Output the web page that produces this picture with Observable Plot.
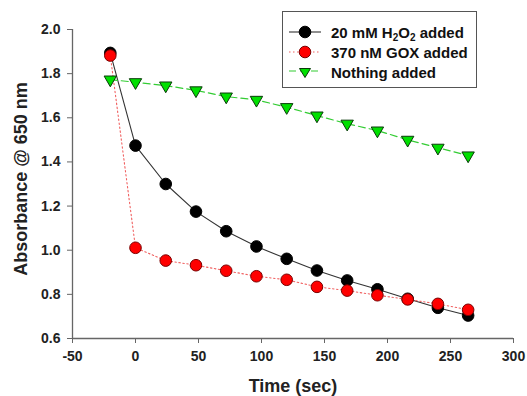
<!DOCTYPE html>
<html>
<head>
<meta charset="utf-8">
<script src="https://cdn.jsdelivr.net/npm/d3@7"></script>
<script src="https://cdn.jsdelivr.net/npm/@observablehq/plot@0.6"></script>
<style>
  html, body { margin: 0; padding: 0; background: #fff; }
  #wrap { position: relative; width: 527px; height: 396px; font-family: "Liberation Sans", Arial, sans-serif; }
  #wrap svg.plot { display: block; }
  #legend { position: absolute; left: 282px; top: 11px; width: 193px; height: 75px; border: 1.5px solid #555; background: #fff; box-sizing: content-box; }
  .row { position: absolute; left: 0; height: 20px; display: flex; align-items: center; }
  .row svg { display: block; margin-left: 5px; }
  .row span { font-weight: bold; font-size: 15px; color: #111; margin-left: 9px; white-space: nowrap; }
  sub { font-size: 10px; vertical-align: -3px; line-height: 0; }
</style>
</head>
<body>
<div id="wrap"></div>
<script>
// ---- data ----
const times = [-20, 0, 24, 48, 72, 96, 120, 144, 168, 192, 216, 240, 264];
const h2o2 = [1.894, 1.474, 1.30, 1.175, 1.086, 1.017, 0.961, 0.908, 0.863, 0.823, 0.780, 0.739, 0.704];
const gox = [1.882, 1.011, 0.953, 0.932, 0.907, 0.882, 0.866, 0.834, 0.817, 0.796, 0.777, 0.757, 0.730];
const nothing = [1.773, 1.761, 1.746, 1.724, 1.696, 1.681, 1.648, 1.610, 1.573, 1.542, 1.500, 1.464, 1.429];
const xTicks = [-50, 0, 50, 100, 150, 200, 250, 300];
const yTicks = [0.6, 0.8, 1.0, 1.2, 1.4, 1.6, 1.8, 2.0];
const seriesNames = ["20 mM H2O2 added", "370 nM GOX added", "Nothing added"];

const tbl = (vals) => times.map((t, i) => ({t, v: vals[i]}));
const dH = tbl(h2o2), dG = tbl(gox), dN = tbl(nothing);

const font = "Liberation Sans, Arial, sans-serif";
const axisColor = "#666";

const plot = Plot.plot({
  width: 527,
  height: 396,
  marginLeft: 72,
  marginRight: 14,
  marginTop: 29,
  marginBottom: 58,
  style: {fontFamily: font, background: "#fff", overflow: "visible"},
  x: {domain: [-50, 300]},
  y: {domain: [0.6, 2.0]},
  marks: [
    Plot.axisX({ticks: xTicks, tickSize: 5, tickPadding: 8, tickFormat: d => String(d), fontSize: 14, fontWeight: "bold", stroke: axisColor, fill: "#222", label: null}),
    Plot.axisY({ticks: yTicks, tickSize: 5, tickPadding: 7, tickFormat: d3.format(".1f"), fontSize: 14, fontWeight: "bold", stroke: axisColor, fill: "#222", label: null}),
    Plot.ruleX([-50], {stroke: axisColor, strokeWidth: 1.3}),
    Plot.ruleY([0.6], {stroke: axisColor, strokeWidth: 1.3}),
    Plot.text(["Time (sec)"], {frameAnchor: "bottom", textAnchor: "middle", lineAnchor: "middle", dy: 48, fontSize: 18, fontWeight: "bold", fill: "#222"}),
    Plot.text(["Absorbance @ 650 nm"], {frameAnchor: "left", textAnchor: "middle", lineAnchor: "middle", dx: -51, dy: -5, rotate: -90, fontSize: 18, fontWeight: "bold", fill: "#222"}),
    // series 1
    Plot.line(dH, {x: "t", y: "v", stroke: "#333", strokeWidth: 1.1}),
    Plot.dot(dH, {x: "t", y: "v", r: 5.8, fill: "#000", stroke: "#000", strokeWidth: 1}),
    // series 2
    Plot.line(dG, {x: "t", y: "v", stroke: "#f06060", strokeWidth: 1.1, strokeDasharray: "1.5,2.5"}),
    Plot.dot(dG, {x: "t", y: "v", r: 5.8, fill: "#ff0000", stroke: "#7a0000", strokeWidth: 1}),
    // series 3
    Plot.line(dN, {x: "t", y: "v", stroke: "#33cc33", strokeWidth: 1.2, strokeDasharray: "7,4"}),
    Plot.dot(dN, {x: "t", y: "v", r: 4.6, symbol: "triangle", rotate: 180, fill: "#00e000", stroke: "#0a3a0a", strokeWidth: 1})
  ]
});
plot.classList.add("plot");
const wrap = document.getElementById("wrap");
wrap.appendChild(plot);

// legend
const legend = document.createElement("div");
legend.id = "legend";
const sample = (kind) => {
  if (kind === 0) return `<svg width="34" height="16"><line x1="1" x2="33" y1="8" y2="8" stroke="#333" stroke-width="1.1"/><circle cx="17" cy="8" r="5.8" fill="#000" stroke="#000"/></svg>`;
  if (kind === 1) return `<svg width="34" height="16"><line x1="1" x2="33" y1="8" y2="8" stroke="#f06060" stroke-width="1.1" stroke-dasharray="1.5,2.5"/><circle cx="17" cy="8" r="5.8" fill="#ff0000" stroke="#7a0000"/></svg>`;
  return `<svg width="34" height="16"><line x1="1" x2="33" y1="7" y2="7" stroke="#33cc33" stroke-width="1.2" stroke-dasharray="7,4"/><path d="M11.5,4.5 L22.5,4.5 L17,13.5 Z" fill="#00e000" stroke="#0a3a0a"/></svg>`;
};
const labelsHtml = ["20 mM H<sub>2</sub>O<sub>2</sub> added", seriesNames[1], seriesNames[2]];
const tops = [10, 30, 50];
labelsHtml.forEach((html, i) => {
  const row = document.createElement("div");
  row.className = "row";
  row.style.top = tops[i] + "px";
  row.innerHTML = sample(i) + `<span>${html}</span>`;
  legend.appendChild(row);
});
wrap.appendChild(legend);
</script>
</body>
</html>
